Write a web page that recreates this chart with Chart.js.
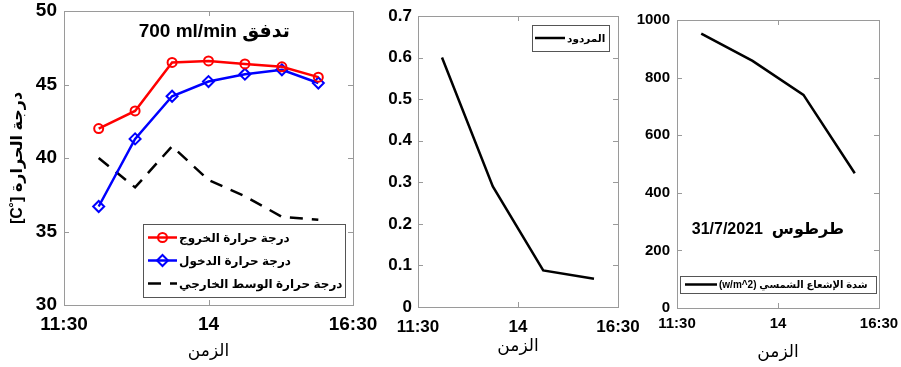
<!DOCTYPE html>
<html>
<head>
<meta charset="utf-8">
<script src="https://cdn.jsdelivr.net/npm/chart.js@4.4.0/dist/chart.umd.min.js"></script>
<style>
  html, body { margin: 0; padding: 0; background: #fff; width: 901px; height: 367px; overflow: hidden; }
  canvas { position: absolute; left: 0; top: 0; }
</style>
</head>
<body>
<canvas id="tempChart" width="901" height="367"></canvas>
<canvas id="effChart" width="901" height="367"></canvas>
<canvas id="irrChart" width="901" height="367"></canvas>
<script>
// Measurement times (decimal hours)
const hours = [12.1, 12.73, 13.37, 14.0, 14.63, 15.27, 15.9];
const hoursSparse = [12.1, 13.37, 14.63, 15.9];

// Temperatures [°C]
const outletTemp  = [42.0, 43.2, 46.5, 46.6, 46.4, 46.2, 45.5];
const inletTemp   = [36.7, 41.3, 44.2, 45.2, 45.7, 46.0, 45.1];
const ambientTemp = [40.0, 38.0, 40.8, 38.5, 37.4, 36.0, 35.8];

// Collector efficiency
const efficiency = [0.60, 0.29, 0.088, 0.068];

// Solar irradiance (W/m^2)
const irradiance = [953, 858, 740, 468];

// Axis ticks
const timeTicks = [11.5, 14, 16.5];
const timeTickLabels = ['11:30', '14', '16:30'];
const tempTicks = [30, 35, 40, 45, 50];
const effTicks = [0, 0.1, 0.2, 0.3, 0.4, 0.5, 0.6, 0.7];
const effTickLabels = ['0', '0.1', '0.2', '0.3', '0.4', '0.5', '0.6', '0.7'];
const irrTicks = [0, 200, 400, 600, 800, 1000];

// Labels
const seriesLabels = ['درجة حرارة الخروج', 'درجة حرارة الدخول', 'درجة حرارة الوسط الخارجي'];
const effLabel = 'المردود';
const irrLabel = '(w/m^2) شدة الإشعاع الشمسي';
const timeTitle = 'الزمن';
const tempTitle = '[C˚] درجة الحرارة';
const flowText = '700 ml/min تدفق';
const placeText = '31/7/2021  طرطوس';

const FONT = "'Liberation Sans', 'DejaVu Sans', Arial, sans-serif";
const FRAME = '#9a9a9a';

const pts = (xs, ys) => xs.map((x, i) => ({ x, y: ys[i] }));

// Box with inward tick marks on all four sides (MATLAB-style axes)
const framePlugin = {
  id: 'frame',
  beforeDatasetsDraw(chart) {
    const { ctx, chartArea: a, scales } = chart;
    const L = 5;
    ctx.save();
    ctx.strokeStyle = FRAME;
    ctx.lineWidth = 1;
    ctx.strokeRect(Math.round(a.left) + 0.5, Math.round(a.top) + 0.5,
                   Math.round(a.right - a.left), Math.round(a.bottom - a.top));
    ctx.beginPath();
    scales.x.ticks.forEach(t => {
      const px = Math.round(scales.x.getPixelForValue(t.value)) + 0.5;
      ctx.moveTo(px, a.bottom); ctx.lineTo(px, a.bottom - L);
      ctx.moveTo(px, a.top); ctx.lineTo(px, a.top + L);
    });
    scales.y.ticks.forEach(t => {
      const py = Math.round(scales.y.getPixelForValue(t.value)) + 0.5;
      ctx.moveTo(a.left, py); ctx.lineTo(a.left + L, py);
      ctx.moveTo(a.right, py); ctx.lineTo(a.right - L, py);
    });
    ctx.stroke();
    ctx.restore();
  }
};

// Boxed legend placed inside the plot area
const boxLegendPlugin = {
  id: 'boxLegend',
  afterDraw(chart, args, o) {
    if (!o || !o.box) return;
    const { ctx } = chart;
    const b = o.box;
    ctx.save();
    ctx.fillStyle = '#fff';
    ctx.fillRect(b.x, b.y, b.w, b.h);
    ctx.strokeStyle = '#555';
    ctx.lineWidth = 1;
    ctx.strokeRect(b.x + 0.5, b.y + 0.5, b.w, b.h);
    const ds = chart.data.datasets;
    const rowH = (b.h - 2 * (o.padY || 0)) / ds.length;
    ds.forEach((d, i) => {
      const cy = b.y + (o.padY || 0) + rowH * (i + 0.5);
      ctx.strokeStyle = d.borderColor;
      ctx.lineWidth = d.borderWidth;
      ctx.setLineDash(d.borderDash || []);
      ctx.beginPath();
      ctx.moveTo(o.sampleX0, cy);
      ctx.lineTo(o.sampleX1, cy);
      ctx.stroke();
      ctx.setLineDash([]);
      if (d.pointRadius > 0) {
        ctx.lineWidth = d.pointBorderWidth;
        ctx.fillStyle = 'rgba(0,0,0,0)';
        Chart.helpers.drawPoint(ctx, {
          pointStyle: d.pointStyle, radius: d.pointRadius,
          borderWidth: d.pointBorderWidth, rotation: 0
        }, (o.sampleX0 + o.sampleX1) / 2, cy);
      }
      ctx.fillStyle = '#000';
      ctx.font = o.font;
      ctx.textAlign = 'left';
      ctx.textBaseline = 'middle';
      ctx.fillText(d.label, o.textX, cy + 1);
    });
    ctx.restore();
  }
};

// Free text placed in data coordinates
const noteTextPlugin = {
  id: 'noteText',
  afterDatasetsDraw(chart, args, o) {
    if (!o || !o.items) return;
    const { ctx, scales } = chart;
    ctx.save();
    o.items.forEach(it => {
      ctx.font = it.font;
      ctx.fillStyle = '#000';
      ctx.textAlign = 'center';
      ctx.textBaseline = 'middle';
      ctx.fillText(it.text, scales.x.getPixelForValue(it.x), scales.y.getPixelForValue(it.y));
    });
    ctx.restore();
  }
};

function buildOptions(p) {
  const area = p.area;
  return {
    responsive: false,
    animation: false,
    devicePixelRatio: 1,
    layout: {
      autoPadding: false,
      padding: {
        left: area.left - p.yW,
        top: area.top,
        right: 901 - area.right,
        bottom: 367 - area.bottom - p.xH
      }
    },
    plugins: {
      legend: { display: false },
      tooltip: { enabled: false },
      boxLegend: p.legend,
      noteText: p.notes
    },
    scales: {
      x: {
        type: 'linear',
        min: 11.5, max: 16.5,
        grid: { display: false, drawTicks: false },
        border: { display: false },
        afterBuildTicks: s => { s.ticks = timeTicks.map(v => ({ value: v })); },
        afterFit: s => { s.height = p.xH; s.paddingLeft = 0; s.paddingRight = 0; },
        ticks: {
          autoSkip: false, maxRotation: 0,
          padding: p.xTickPad,
          color: '#000',
          font: { family: FONT, size: p.tickSize, weight: 'bold' },
          callback: v => timeTickLabels[timeTicks.indexOf(v)]
        },
        title: {
          display: true, text: timeTitle, color: '#000',
          padding: { top: 0, bottom: p.xTitlePad },
          font: { family: FONT, size: 17, weight: 'normal' }
        }
      },
      y: {
        type: 'linear',
        min: p.yMin, max: p.yMax,
        grid: { display: false, drawTicks: false },
        border: { display: false },
        afterBuildTicks: s => { s.ticks = p.yTicks.map(v => ({ value: v })); },
        afterFit: s => { s.width = p.yW; s.paddingTop = 0; s.paddingBottom = 0; },
        ticks: {
          autoSkip: false,
          padding: p.yTickPad,
          color: '#000',
          font: { family: FONT, size: p.tickSize, weight: 'bold' },
          callback: v => p.yLabels[p.yTicks.indexOf(v)]
        },
        title: p.yTitle ? {
          display: true, text: p.yTitle, color: '#000',
          padding: { top: 4, bottom: 0 },
          font: { family: FONT, size: 16, weight: 'bold' }
        } : { display: false }
      }
    }
  };
}

const lineBase = { fill: false, tension: 0, pointHitRadius: 0 };

// Panel 1: temperatures
new Chart(document.getElementById('tempChart'), {
  type: 'line',
  data: {
    datasets: [
      Object.assign({}, lineBase, {
        label: seriesLabels[0], data: pts(hours, outletTemp),
        borderColor: '#ff0000', borderWidth: 2.5,
        pointStyle: 'circle', pointRadius: 4.5, pointBorderWidth: 2,
        pointBorderColor: '#ff0000', pointBackgroundColor: 'rgba(0,0,0,0)'
      }),
      Object.assign({}, lineBase, {
        label: seriesLabels[1], data: pts(hours, inletTemp),
        borderColor: '#0000ff', borderWidth: 2.5,
        pointStyle: 'rectRot', pointRadius: 5.5, pointBorderWidth: 2,
        pointBorderColor: '#0000ff', pointBackgroundColor: 'rgba(0,0,0,0)'
      }),
      Object.assign({}, lineBase, {
        label: seriesLabels[2], data: pts(hours, ambientTemp),
        borderColor: '#000000', borderWidth: 2.5, borderDash: [13, 9],
        pointRadius: 0
      })
    ]
  },
  options: buildOptions({
    area: { left: 64, top: 11, right: 353, bottom: 305 },
    yW: 60, xH: 58, tickSize: 19, xTickPad: 8, yTickPad: 7, xTitlePad: 1,
    yMin: 30, yMax: 50, yTicks: tempTicks, yLabels: tempTicks.map(String),
    yTitle: tempTitle,
    legend: {
      box: { x: 143, y: 224, w: 202, h: 73 }, padY: 2,
      sampleX0: 148, sampleX1: 177, textX: 179,
      font: 'bold 12px ' + FONT
    },
    notes: { items: [{ text: flowText, x: 14.1, y: 48.6, font: 'bold 19px ' + FONT }] }
  }),
  plugins: [framePlugin, boxLegendPlugin, noteTextPlugin]
});

// Panel 2: efficiency
new Chart(document.getElementById('effChart'), {
  type: 'line',
  data: {
    datasets: [
      Object.assign({}, lineBase, {
        label: effLabel, data: pts(hoursSparse, efficiency),
        borderColor: '#000000', borderWidth: 2.5, pointRadius: 0
      })
    ]
  },
  options: buildOptions({
    area: { left: 418, top: 16, right: 618, bottom: 307 },
    yW: 50, xH: 58, tickSize: 17, xTickPad: 10, yTickPad: 6, xTitlePad: 8,
    yMin: 0, yMax: 0.7, yTicks: effTicks, yLabels: effTickLabels,
    legend: {
      box: { x: 532, y: 25, w: 77, h: 26 }, padY: 0,
      sampleX0: 535, sampleX1: 565, textX: 567,
      font: 'bold 10.5px ' + FONT
    }
  }),
  plugins: [framePlugin, boxLegendPlugin]
});

// Panel 3: solar irradiance
new Chart(document.getElementById('irrChart'), {
  type: 'line',
  data: {
    datasets: [
      Object.assign({}, lineBase, {
        label: irrLabel, data: pts(hoursSparse, irradiance),
        borderColor: '#000000', borderWidth: 2.5, pointRadius: 0
      })
    ]
  },
  options: buildOptions({
    area: { left: 677, top: 20, right: 879, bottom: 308 },
    yW: 60, xH: 58, tickSize: 15, xTickPad: 7, yTickPad: 7, xTitlePad: 3,
    yMin: 0, yMax: 1000, yTicks: irrTicks, yLabels: irrTicks.map(String),
    legend: {
      box: { x: 680, y: 276, w: 196, h: 17 }, padY: 0,
      sampleX0: 685, sampleX1: 717, textX: 719,
      font: 'bold 10px ' + FONT
    },
    notes: { items: [{ text: placeText, x: 13.75, y: 272, font: 'bold 16px ' + FONT }] }
  }),
  plugins: [framePlugin, boxLegendPlugin, noteTextPlugin]
});
</script>
</body>
</html>
